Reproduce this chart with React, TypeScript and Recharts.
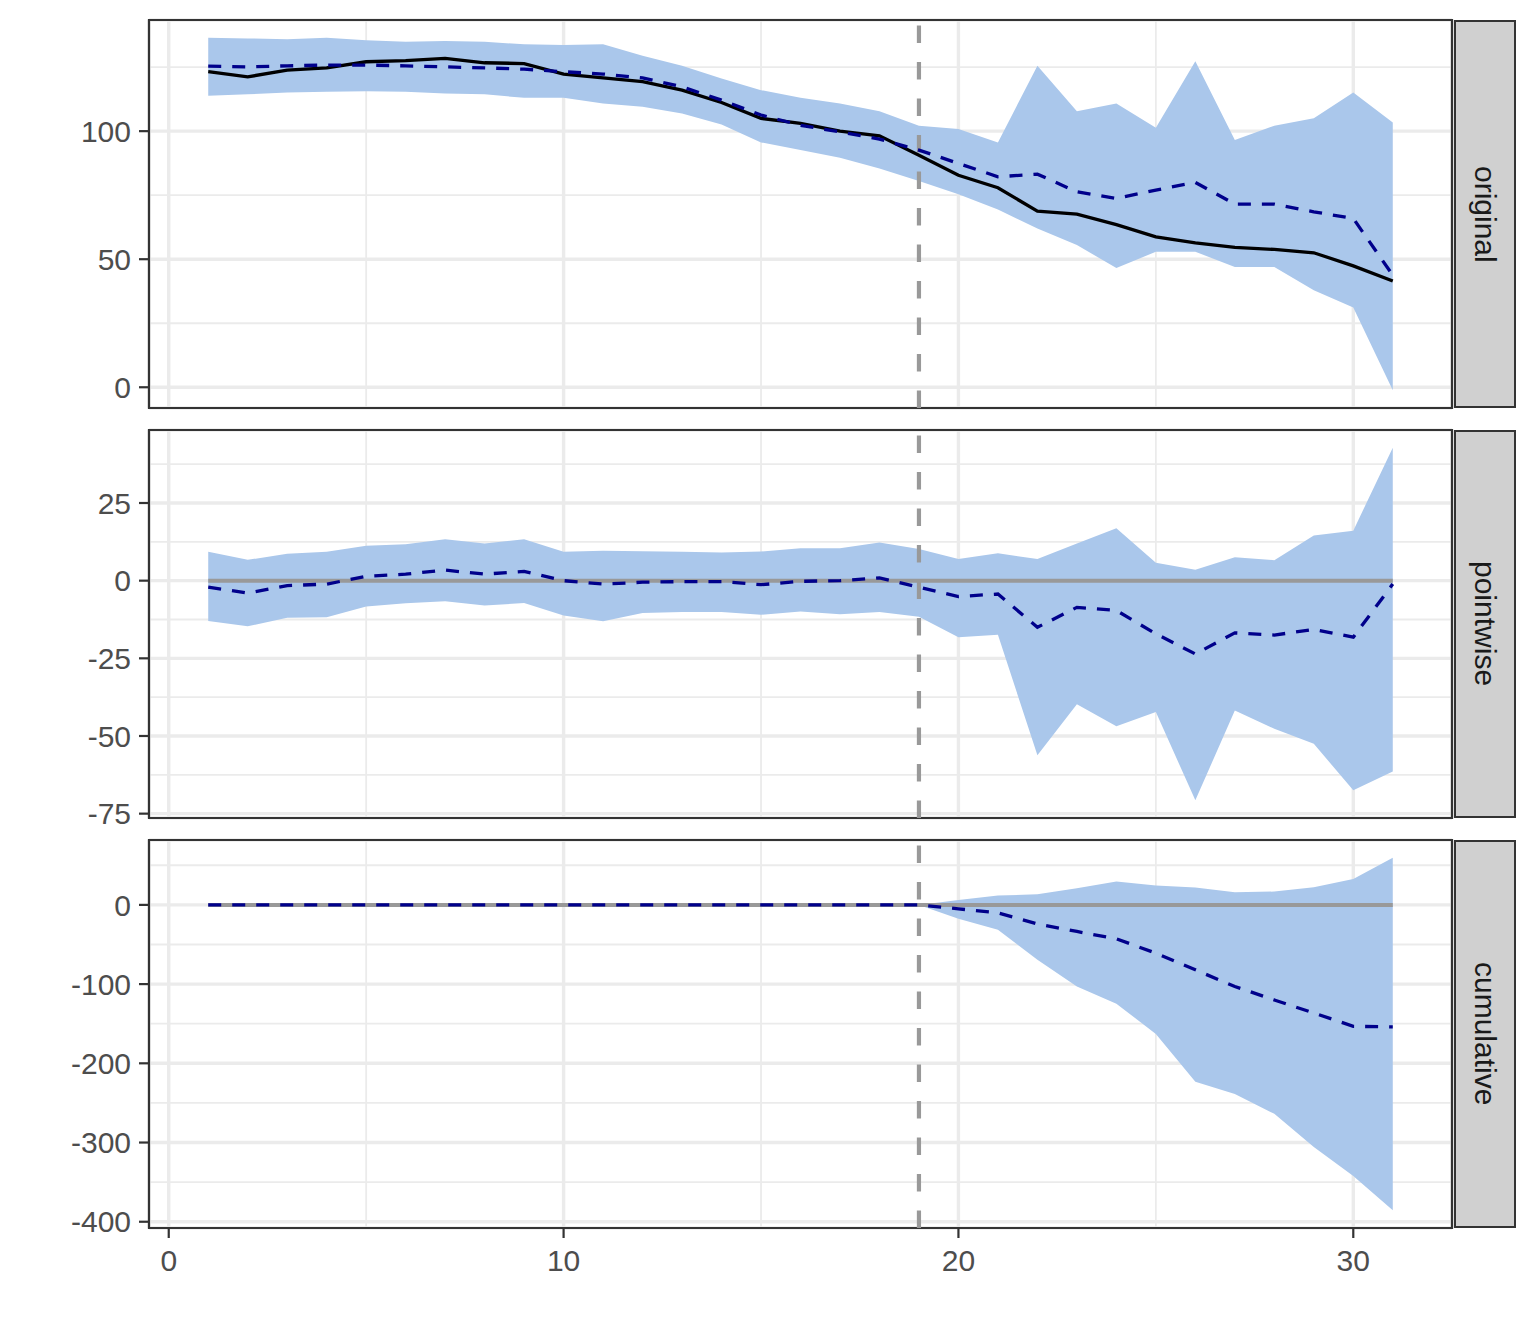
import {
  ComposedChart,
  Area,
  Line,
  XAxis,
  YAxis,
  CartesianGrid,
  ReferenceLine,
  ReferenceArea,
} from "recharts";

// time index
const TIME = [
  1, 2, 3, 4, 5, 6, 7, 8, 9, 10, 11, 12, 13, 14, 15, 16, 17, 18, 19, 20, 21,
  22, 23, 24, 25, 26, 27, 28, 29, 30, 31,
];

// original: observed + counterfactual prediction
const ORIG_ACTUAL = [
  123.2, 121.2, 123.8, 124.7, 127.1, 127.5, 128.4, 126.7, 126.4, 122.3, 120.8,
  119.3, 116, 111.2, 105, 103, 100, 98.2, 90.6, 82.8, 77.9, 68.75, 67.6, 63.5,
  58.7, 56.4, 54.6, 53.8, 52.5, 47.4, 41.5,
];
const ORIG_PRED = [
  125.4, 125.1, 125.5, 125.8, 125.8, 125.5, 125.1, 124.7, 124.2, 123.2, 122.3,
  120.8, 117.3, 112.1, 106.3, 102.3, 99.7, 96.9, 92.6, 87.4, 82.2, 83.2, 76.3,
  73.7, 77, 80, 71.5, 71.5, 68.5, 65.9, 43.75,
];
const ORIG_LO = [
  113.8, 114.4, 115.1, 115.4, 115.6, 115.4, 114.7, 114.4, 113, 113, 110.8,
  109.5, 106.9, 102.6, 95.6, 92.6, 89.6, 85.4, 80.5, 75.4, 69.4, 62, 55.5,
  46.6, 52.9, 52.9, 47, 47, 37.9, 31.1, -1.2,
];
const ORIG_HI = [
  136.5, 136.2, 135.9, 136.5, 135.5, 134.9, 135.2, 134.9, 133.9, 133.6, 133.9,
  129.4, 125.5, 120.6, 116, 113, 110.8, 107.8, 102.1, 100.8, 95.6, 125.5,
  107.8, 110.8, 101.3, 127.3, 96.5, 102.1, 105, 115.1, 103.4,
];

// pointwise effect
const PW_EST = [
  -2.1, -4, -1.6, -1.1, 1.4, 2.1, 3.4, 2.1, 3, 0, -1.1, -0.5, -0.3, -0.3, -1.3,
  -0.2, 0, 0.9, -2.1, -5.1, -4.3, -15, -8.6, -9.6, -17.1, -23.6, -16.8, -17.5,
  -15.7, -18.2, -1.1,
];
const PW_LO = [
  -13, -14.7, -11.9, -11.75, -8.3, -7.3, -6.6, -8, -7.2, -11.2, -13.1, -10.4,
  -10.1, -10.1, -11, -9.9, -10.8, -10.1, -11.6, -18.2, -17.4, -56.2, -39.8,
  -46.9, -42.3, -70.7, -41.8, -47.7, -52.5, -67.5, -61.4,
];
const PW_HI = [
  9.3, 6.7, 8.65, 9.3, 11.2, 11.7, 13.35, 12, 13.35, 9.3, 9.6, 9.5, 9.3, 9.1,
  9.4, 10.4, 10.4, 12.3, 10.2, 7, 8.8, 7, 12, 16.9, 5.8, 3.5, 7.5, 6.6, 14.5,
  16.1, 42.8,
];

// cumulative effect
const CUM_EST = [
  0, 0, 0, 0, 0, 0, 0, 0, 0, 0, 0, 0, 0, 0, 0, 0, 0, 0, 0, -5, -10, -24, -33.6,
  -42.8, -61, -82, -103, -120, -136.5, -153.3, -154,
];
const CUM_LO = [
  0, 0, 0, 0, 0, 0, 0, 0, 0, 0, 0, 0, 0, 0, 0, 0, 0, 0, 0, -17.6, -31.5, -69.3,
  -102.9, -124.7, -163, -223.4, -238.6, -263.8, -305.8, -342.3, -385.6,
];
const CUM_HI = [
  0, 0, 0, 0, 0, 0, 0, 0, 0, 0, 0, 0, 0, 0, 0, 0, 0, 0, 0, 6.3, 11.8, 13.4, 21,
  29.4, 24.4, 21.8, 16, 16.8, 22.3, 32.8, 59.6,
];

const X_TICKS = [0, 10, 20, 30];
const X_MINOR = [5, 15, 25];
const INTERVENTION = 19;

const FONT = '"Liberation Sans", Arial, Helvetica, sans-serif';
const BAND = "#AAC7EB";
const GRID = "#EBEBEB";
const REF_GRAY = "#999999";

const PLOT_LEFT = 149;
const PLOT_RIGHT = 1452;
const CHART_W = 1460;
const PANEL_H = 388;
const PAD = 20;
const X_AXIS_H = 60;

interface PanelSpec {
  label: string;
  top: number;
  domain: [number, number];
  ticks: number[];
  minor: number[];
  est: number[];
  lo: number[];
  hi: number[];
  actual?: number[];
  zeroLine: boolean;
  showX: boolean;
}

const PANELS: PanelSpec[] = [
  {
    label: "original",
    top: 20,
    domain: [-8.1, 143.4],
    ticks: [0, 50, 100],
    minor: [25, 75, 125],
    est: ORIG_PRED,
    lo: ORIG_LO,
    hi: ORIG_HI,
    actual: ORIG_ACTUAL,
    zeroLine: false,
    showX: false,
  },
  {
    label: "pointwise",
    top: 430,
    domain: [-76.4, 48.5],
    ticks: [-75, -50, -25, 0, 25],
    minor: [-62.5, -37.5, -12.5, 12.5, 37.5],
    est: PW_EST,
    lo: PW_LO,
    hi: PW_HI,
    zeroLine: true,
    showX: false,
  },
  {
    label: "cumulative",
    top: 840,
    domain: [-407.9, 81.9],
    ticks: [-400, -300, -200, -100, 0],
    minor: [-350, -250, -150, -50, 50],
    est: CUM_EST,
    lo: CUM_LO,
    hi: CUM_HI,
    zeroLine: true,
    showX: true,
  },
];

const X_DOMAIN: [number, number] = [-0.5, 32.5];

function Panel({ spec }: { spec: PanelSpec }) {
  const data = TIME.map((t, i) => ({
    t,
    band: [spec.lo[i], spec.hi[i]],
    est: spec.est[i],
    actual: spec.actual ? spec.actual[i] : null,
  }));
  const height = PAD + PANEL_H + (spec.showX ? X_AXIS_H : PAD);

  return (
    <div style={{ position: "absolute", left: 0, top: spec.top - PAD }}>
      <ComposedChart
        width={CHART_W}
        height={height}
        data={data}
        margin={{ top: PAD, right: CHART_W - PLOT_RIGHT, bottom: spec.showX ? 0 : PAD, left: 0 }}
      >
        <XAxis
          dataKey="t"
          type="number"
          domain={X_DOMAIN}
          ticks={X_TICKS}
          allowDataOverflow
          hide={!spec.showX}
          height={X_AXIS_H}
          interval={0}
          tickSize={10}
          tickMargin={12}
          axisLine={false}
          tickLine={{ stroke: "#333333", strokeWidth: 2.2 }}
          tick={{ fill: "#4D4D4D", fontSize: 30, fontFamily: FONT }}
        />
        <XAxis
          xAxisId="minor"
          dataKey="t"
          type="number"
          domain={X_DOMAIN}
          ticks={X_MINOR}
          allowDataOverflow
          hide
        />
        <YAxis
          type="number"
          domain={spec.domain}
          ticks={spec.ticks}
          allowDataOverflow
          width={PLOT_LEFT}
          interval={0}
          tickSize={10}
          tickMargin={8}
          axisLine={false}
          tickLine={{ stroke: "#333333", strokeWidth: 2.2 }}
          tick={{ fill: "#4D4D4D", fontSize: 30, fontFamily: FONT }}
        />
        <YAxis
          yAxisId="minor"
          type="number"
          domain={spec.domain}
          ticks={spec.minor}
          allowDataOverflow
          hide
        />
        <CartesianGrid
          xAxisId="minor"
          yAxisId="minor"
          stroke={GRID}
          strokeWidth={1.8}
        />
        <CartesianGrid stroke={GRID} strokeWidth={3.4} />

        <Area
          dataKey="band"
          type="linear"
          stroke="none"
          fill={BAND}
          fillOpacity={1}
          isAnimationActive={false}
        />

        {spec.zeroLine && (
          <ReferenceLine
            segment={[
              { x: TIME[0], y: 0 },
              { x: TIME[TIME.length - 1], y: 0 },
            ]}
            stroke={REF_GRAY}
            strokeWidth={4}
          />
        )}

        <ReferenceLine
          x={INTERVENTION}
          stroke={REF_GRAY}
          strokeWidth={4.2}
          strokeDasharray="17.5 19"
        />

        {spec.actual && (
          <Line
            dataKey="actual"
            type="linear"
            stroke="#000000"
            strokeWidth={3.3}
            dot={false}
            activeDot={false}
            isAnimationActive={false}
          />
        )}
        <Line
          dataKey="est"
          type="linear"
          stroke="#00008B"
          strokeWidth={3.3}
          strokeDasharray="13 11"
          dot={false}
          activeDot={false}
          isAnimationActive={false}
        />

        <ReferenceArea
          x1={X_DOMAIN[0]}
          x2={X_DOMAIN[1]}
          y1={spec.domain[0]}
          y2={spec.domain[1]}
          fill="none"
          stroke="#333333"
          strokeWidth={2.2}
          ifOverflow="visible"
        />
      </ComposedChart>
      <div
        style={{
          position: "absolute",
          left: PLOT_RIGHT + 2,
          top: PAD,
          width: 62,
          height: PANEL_H,
          boxSizing: "border-box",
          background: "#D0D0D0",
          border: "2px solid #333333",
          display: "flex",
          alignItems: "center",
          justifyContent: "center",
        }}
      >
        <span
          style={{
            writingMode: "vertical-rl",
            fontFamily: FONT,
            fontSize: 30,
            color: "#1A1A1A",
            lineHeight: 1,
          }}
        >
          {spec.label}
        </span>
      </div>
    </div>
  );
}

export default function App() {
  return (
    <div
      style={{
        position: "absolute",
        left: 0,
        top: 0,
        width: 1536,
        height: 1344,
        background: "#FFFFFF",
      }}
    >
      {PANELS.map((p) => (
        <Panel key={p.label} spec={p} />
      ))}
    </div>
  );
}
